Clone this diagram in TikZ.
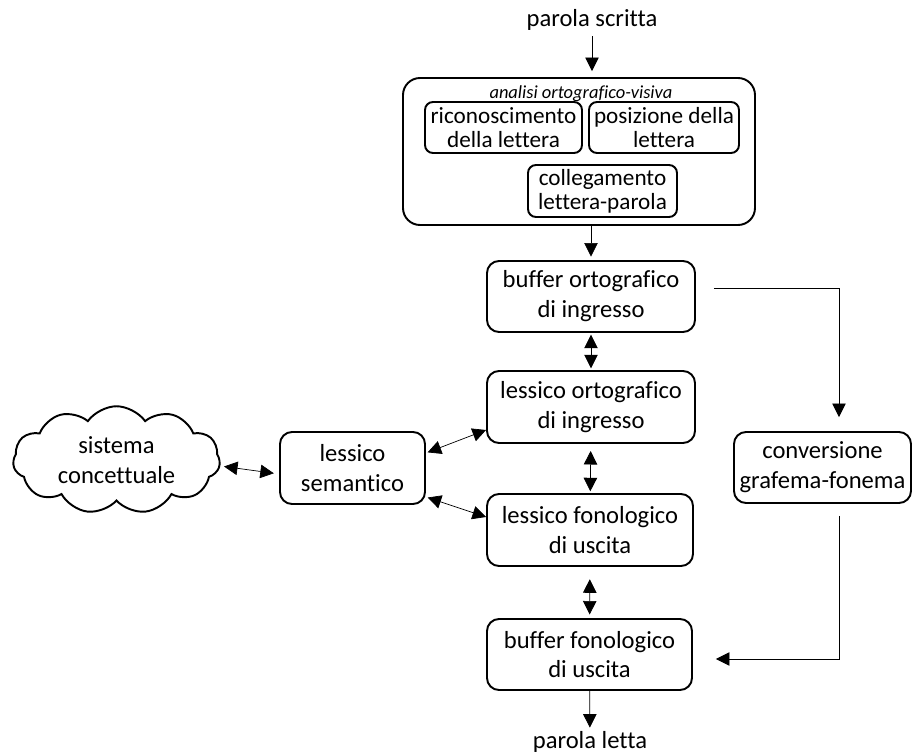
\documentclass[tikz,border=0pt]{standalone}
\usepackage{fontspec}
\setmainfont{Carlito}[Ligatures=NoCommon]
\usepackage{tikz}
\usetikzlibrary{arrows.meta}
\usetikzlibrary{shapes.symbols}
\tikzset{box/.style={draw,line width=1.1pt,rounded corners=0.24cm,align=center,
   minimum width=4.16cm,minimum height=1.42cm,inner sep=0pt},
 inner/.style={box,rounded corners=0.16cm,minimum height=1.02cm,font=\fontsize{13.2}{13.8}\selectfont},
 outer/.style={draw,line width=1.1pt,rounded corners=0.34cm,
   minimum width=7.04cm,minimum height=2.94cm},
 blank/.style={draw=none,inner sep=0pt},
 tip/.style={-{Triangle[width=0.27cm,length=0.27cm]}},
 both/.style={{Triangle[width=0.27cm,length=0.27cm]}-{Triangle[width=0.27cm,length=0.27cm]}},
 line width=0.65pt,
 }

\begin{document}
\begin{tikzpicture}[font=\fontsize{14}{17}\selectfont]
    \useasboundingbox (0,0) rectangle (18.26,-15.1);
    % analisi ortografico-visiva
    \node[blank] (scritta) at (11.84,-0.4) {parola scritta};
    \node[outer] (analisi) at (11.58,-3.03) {};
    \node[blank,font=\fontsize{10.5}{12}\itshape] (titolo) at (11.62,-1.88) {analisi ortografico-visiva};
    \node[inner,minimum width=3.14cm] (ricon) at (10.07,-2.55) {riconoscimento\\della lettera};
    \node[inner,minimum width=3.0cm] (posiz) at (13.28,-2.55) {posizione della\\lettera};
    \node[inner,minimum width=2.98cm,minimum height=1.04cm] (colleg) at (12.05,-3.82) {collegamento\\lettera-parola};
    % via lessicale
    \node[box] (bufferO) at (11.82,-5.93) {buffer ortografico\\di ingresso};
    \node[box,minimum height=1.44cm] (lessicoO) at (11.82,-8.14) {lessico ortografico\\di ingresso};
    \node[box,minimum width=4.12cm,minimum height=1.44cm] (lessicoF) at (11.8,-10.6) {lessico fonologico\\di uscita};
    \node[box,minimum width=4.1cm] (bufferF) at (11.79,-13.09) {buffer fonologico\\di uscita};
    \node[blank] (letta) at (11.8,-14.84) {parola letta};
    \node[box,minimum width=2.9cm,minimum height=1.44cm] (semantico) at (7.05,-9.36) {lessico\\semantico};
    \node[cloud,draw,line width=1.1pt,cloud puffs=11,cloud puff arc=110,aspect=2,
        minimum width=4.14cm,minimum height=2.15cm,inner sep=0pt,align=center] (concetti) at (2.33,-9.2) {sistema\\concettuale};
    % via sublessicale
    \node[box,minimum width=3.54cm] (conv) at (16.45,-9.35) {conversione\\grafema-fonema};

    \draw[tip,shorten <=3pt] (scritta) -- ([yshift=0.12cm]scritta |- analisi.north);
    \draw[tip,shorten >=2pt] (bufferO |- analisi.south) -- (bufferO.north);
    \draw[both,shorten <=1pt,shorten >=1pt] (bufferO) -- (lessicoO);
    \draw[both,shorten <=4pt,shorten >=1pt] (lessicoO) -- (lessicoF);
    \draw[both,shorten <=7pt,shorten >=2pt] (lessicoF) -- (bufferF);
    \draw[tip,shorten >=2pt] (bufferF) -- (letta);
    \draw[both,shorten <=2pt,shorten >=3pt] ([yshift=-0.12cm]concetti.east) -- ([yshift=-0.12cm]semantico.west);
    \draw[both,shorten <=1pt] ([yshift=0.3cm]semantico.east) -- ([yshift=-0.46cm]lessicoO.west);
    \draw[both,shorten <=1pt] ([yshift=-0.58cm]semantico.east) -- ([yshift=0.26cm]lessicoF.west);
    \draw[tip] ([xshift=0.36cm,yshift=0.17cm]bufferO.east) -| ([xshift=0.33cm,yshift=0.28cm]conv.north);
    \draw[tip] ([xshift=0.33cm,yshift=-0.24cm]conv.south) |- ([xshift=0.46cm,yshift=-0.09cm]bufferF.east);
\end{tikzpicture}
\end{document}
